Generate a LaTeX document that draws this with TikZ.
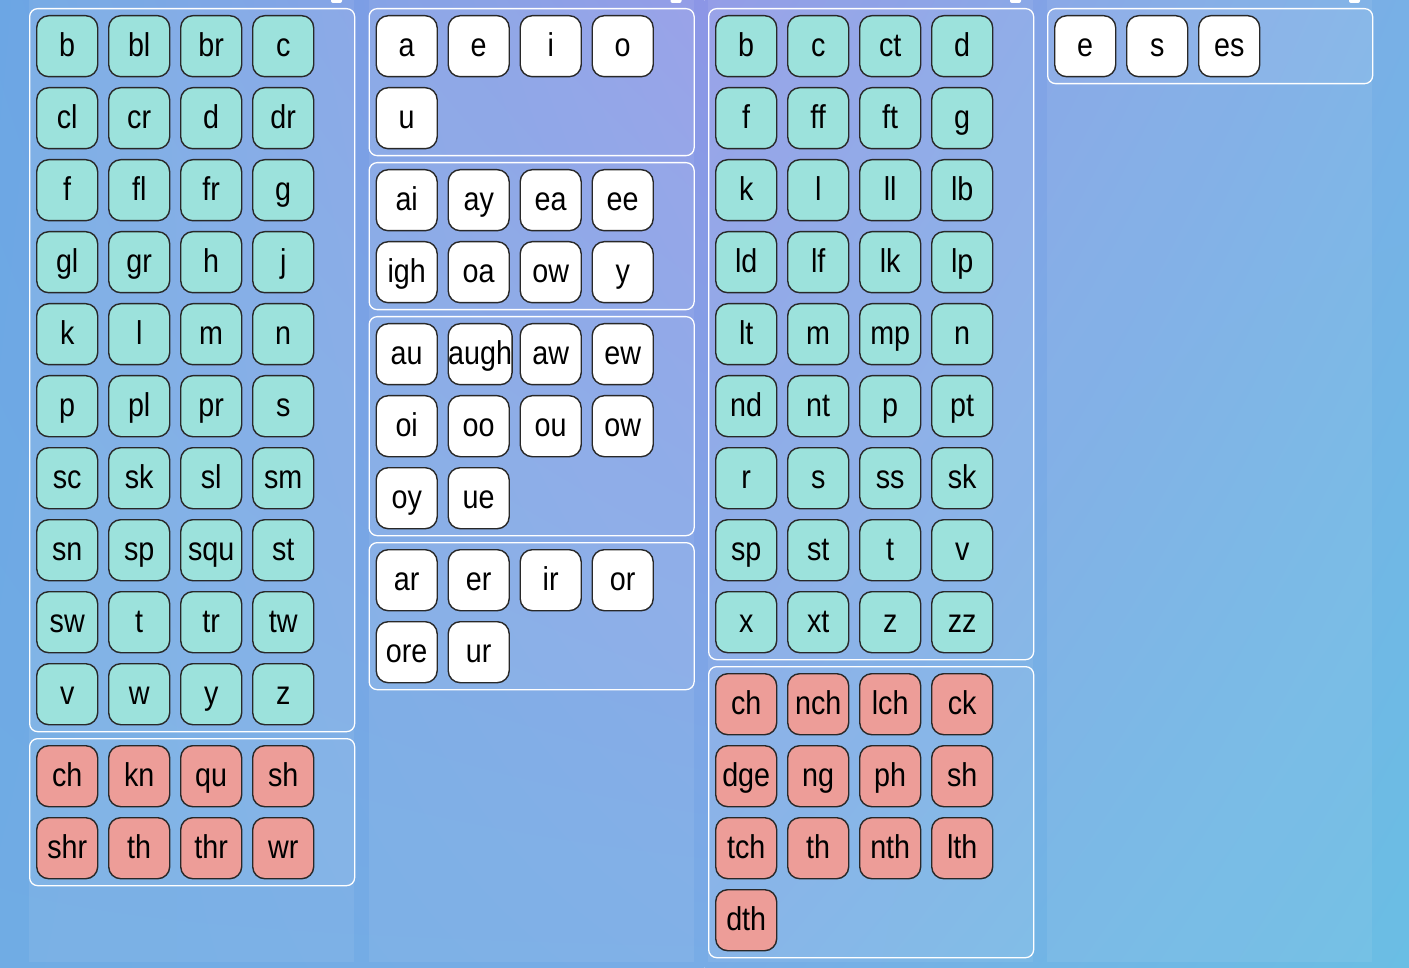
\documentclass[tikz,border=0pt]{standalone}
\usepackage{fontspec}
\setmainfont{Liberation Sans}[FakeStretch=0.87,Ligatures=NoCommon]
\usetikzlibrary{positioning,shadings}

\definecolor{bgTL}{RGB}{108,166,228}
\definecolor{bgTM}{RGB}{140,150,230}
\definecolor{bgTR}{RGB}{120,176,230}
\definecolor{bgBL}{RGB}{112,172,228}
\definecolor{bgBM}{RGB}{120,172,230}
\definecolor{bgBR}{RGB}{106,190,228}
\definecolor{tealtile}{RGB}{156,226,220}
\definecolor{redtile}{RGB}{237,157,152}
\definecolor{tileline}{RGB}{40,40,40}

% group of tiles: name, left x, top y, rows, tile style, labels
\newcommand{\tilegroup}[6]{%
  \node[groupbox,minimum height={72*#4+3},anchor=north west] (#1) at (#2,#3) {};
  \foreach \lbl [count=\i from 0] in {#6}{
    \pgfmathtruncatemacro{\cc}{mod(\i,4)}
    \pgfmathtruncatemacro{\rr}{\i/4}
    \node[tile,#5,anchor=north west] (#1-\i) at ({#2+7+72*\cc},{#3+7+72*\rr}) {\lbl};
  }
}

\begin{document}
\begin{tikzpicture}[x=1pt,y=-1pt,line join=round,
  panel/.style={fill=white,fill opacity=0.07,draw=none},
  handle/.style={fill=white,draw=none,rounded corners=2pt},
  groupbox/.style={draw=white,line width=1.3pt,rounded corners=8pt,
    fill=white,fill opacity=0.06,draw opacity=1,minimum width=325pt,inner sep=0pt},
  tile/.style={draw=tileline,line width=1.4pt,rounded corners=12pt,
    minimum width=61pt,minimum height=61pt,inner sep=0pt,
    text height=24pt,text depth=3pt,font=\fontsize{33}{33}\selectfont},
  plain/.style={fill=white},
  single/.style={fill=tealtile},
  digraph/.style={fill=redtile}]

\useasboundingbox (0,0) rectangle (1409,968);

% Background
\shade[upper left=bgTL,upper right=bgTM,lower left=bgBL,lower right=bgBM]
  (0,0) rectangle (704.5,968);
\shade[upper left=bgTM,upper right=bgTR,lower left=bgBM,lower right=bgBR]
  (704.5,0) rectangle (1409,968);

% Panels
\foreach \px in {29,368.5,708,1047}{
  \fill[panel] (\px,-10) rectangle ({\px+325},962);
  \fill[handle] ({\px+302},-6) rectangle ({\px+313},3);
}

% Panel 1: onsets
\tilegroup{onset}{29}{8}{10}{single}{b,bl,br,c,cl,cr,d,dr,f,fl,fr,g,gl,gr,h,j,k,l,m,n,p,pl,pr,s,sc,sk,sl,sm,sn,sp,squ,st,sw,t,tr,tw,v,w,y,z}
\tilegroup{onsetdi}{29}{738}{2}{digraph}{ch,kn,qu,sh,shr,th,thr,wr}

% Panel 2: vowels
\tilegroup{short}{368.5}{8}{2}{plain}{a,e,i,o,u}
\tilegroup{long}{368.5}{162}{2}{plain}{ai,ay,ea,ee,igh,oa,ow,y}
\tilegroup{other}{368.5}{316}{3}{plain}{au,augh,aw,ew,oi,oo,ou,ow,oy,ue}
\tilegroup{rctrl}{368.5}{542}{2}{plain}{ar,er,ir,or,ore,ur}

% Panel 3: codas
\tilegroup{coda}{708}{8}{9}{single}{b,c,ct,d,f,ff,ft,g,k,l,ll,lb,ld,lf,lk,lp,lt,m,mp,n,nd,nt,p,pt,r,s,ss,sk,sp,st,t,v,x,xt,z,zz}
\tilegroup{codadi}{708}{666}{4}{digraph}{ch,nch,lch,ck,dge,ng,ph,sh,tch,th,nth,lth,dth}

% Panel 4: suffixes
\tilegroup{suffix}{1047}{8}{1}{plain}{e,s,es}

\end{tikzpicture}
\end{document}
